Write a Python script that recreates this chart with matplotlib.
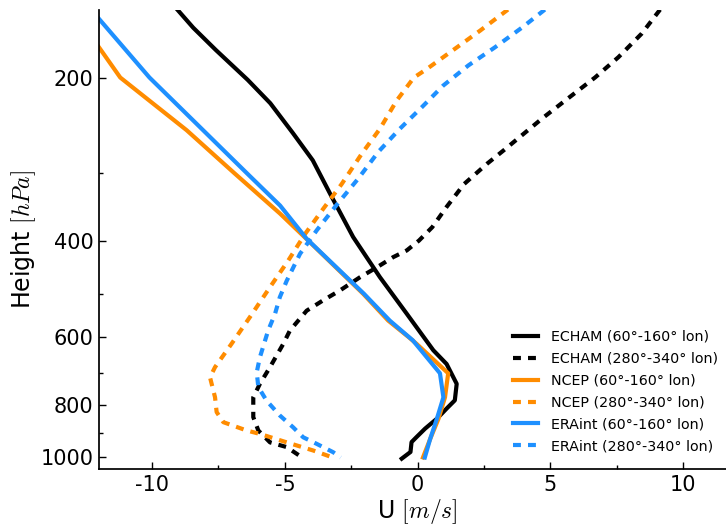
import matplotlib
matplotlib.use("Agg")
import matplotlib.pyplot as plt
from matplotlib.ticker import FixedLocator, NullFormatter, MultipleLocator

plt.rcParams["font.family"] = ["DejaVu Sans"]
plt.rcParams["mathtext.fontset"] = "cm"
plt.rcParams["axes.unicode_minus"] = False

# Zonal wind profiles: pressure levels (hPa) and U (m/s)
p_echam_a = [150, 162, 178, 202, 223, 253, 284, 327, 393, 466, 544, 635, 673,
             732, 785, 812, 848, 885, 919, 937, 977, 1005]
u_echam_a = [-9.05, -8.45, -7.6, -6.4, -5.55, -4.7, -3.95, -3.3, -2.43, -1.42,
             -0.41, 0.59, 1.09, 1.47, 1.40, 1.10, 0.73, 0.28, -0.06, -0.23,
             -0.27, -0.6]

p_echam_b = [150, 166, 183.5, 200, 217, 237, 272, 288, 314, 346, 377, 399, 416,
             428, 447, 466, 493, 514, 537, 584, 618, 682, 732, 775, 843, 892,
             938, 957, 1000]
u_echam_b = [9.13, 8.44, 7.56, 6.68, 5.74, 4.73, 3.25, 2.62, 1.75, 1.09, 0.55,
             0.05, -0.41, -0.92, -1.54, -2.17, -2.93, -3.56, -4.18, -4.81,
             -5.06, -5.56, -5.94, -6.19, -6.19, -6.00, -5.56, -4.93, -4.35]

p_ncep_a = [150, 200, 250, 300, 356, 400, 500, 560, 600, 618, 700, 775, 850,
            925, 1000]
u_ncep_a = [-13.0, -11.2, -8.7, -6.9, -5.18, -4.1, -2.05, -1.11, -0.35, -0.04,
            1.15, 1.03, 0.78, 0.47, 0.2]

p_ncep_b = [150, 164, 178, 193, 200, 220.5, 248.5, 276, 314, 349, 388, 434,
            486, 552, 618, 682, 712, 775, 825, 861, 892, 905, 938, 971, 1000]
u_ncep_b = [3.40, 2.35, 1.34, 0.34, -0.14, -0.79, -1.42, -2.10, -2.86, -3.56,
            -4.24, -4.87, -5.56, -6.32, -7.01, -7.63, -7.82, -7.63, -7.57,
            -7.32, -6.44, -5.94, -4.93, -3.93, -3.2]

p_era_a = [150, 200, 250, 300, 344, 396, 500, 560, 609, 700, 775, 850, 925, 1000]
u_era_a = [-12.3, -10.1, -8.08, -6.43, -5.18, -4.18, -2.02, -1.05, -0.18, 0.84,
           0.97, 0.72, 0.47, 0.27]

p_era_b = [150, 162, 176, 190, 207, 227, 248.5, 274, 307, 343, 382, 422, 473,
           507, 544, 584, 654, 697, 742, 786, 837, 880, 918, 944, 978, 1000]
u_era_b = [4.79, 3.92, 2.91, 1.91, 0.96, 0.15, -0.67, -1.48, -2.24, -3.05,
           -3.80, -4.43, -4.93, -5.19, -5.37, -5.63, -5.94, -6.06, -6.00,
           -5.69, -5.19, -4.69, -4.31, -3.80, -3.18, -2.9]

labels = ["ECHAM (60°-160° lon)",
          "ECHAM (280°-340° lon)",
          "NCEP (60°-160° lon)",
          "NCEP (280°-340° lon)",
          "ERAint (60°-160° lon)",
          "ERAint (280°-340° lon)"]

y_major = [200, 400, 600, 800, 1000]
y_minor = [300, 500, 700, 900]

W, H = 726, 527
fig = plt.figure(figsize=(W / 100, H / 100), dpi=100)
ax = fig.add_axes([99 / W, 1 - 469 / H, (736.3 - 99) / W, (469 - 9.6) / H])

dash = (0, (1.9, 1.7))
lw = 3
ax.plot(u_echam_a, p_echam_a, color="black", lw=lw, label=labels[0])
ax.plot(u_echam_b, p_echam_b, color="black", lw=lw, ls=dash, label=labels[1])
ax.plot(u_ncep_a, p_ncep_a, color="darkorange", lw=lw, label=labels[2])
ax.plot(u_ncep_b, p_ncep_b, color="darkorange", lw=lw, ls=dash, label=labels[3])
ax.plot(u_era_a, p_era_a, color="dodgerblue", lw=lw, label=labels[4])
ax.plot(u_era_b, p_era_b, color="dodgerblue", lw=lw, ls=dash, label=labels[5])

ax.set_yscale("log")
ax.set_ylim(1050, 150)
ax.set_xlim(-12, 12)
ax.yaxis.set_major_locator(FixedLocator(y_major))
ax.yaxis.set_minor_locator(FixedLocator(y_minor))
ax.set_yticklabels([str(v) for v in y_major])
ax.yaxis.set_minor_formatter(NullFormatter())
ax.xaxis.set_major_locator(MultipleLocator(5))
ax.xaxis.set_minor_locator(MultipleLocator(2.5))

for s in ("top", "right"):
    ax.spines[s].set_visible(False)
for s in ("left", "bottom"):
    ax.spines[s].set_linewidth(1.25)
ax.tick_params(which="both", direction="in", labelsize=15, pad=4)
ax.tick_params(which="major", length=5, width=1)
ax.tick_params(which="minor", length=3, width=1)

ax.set_xlabel(r"U $[m/s]$", fontsize=17, labelpad=2)
ax.set_ylabel(r"Height $[hPa]$", fontsize=17, labelpad=2)

leg = ax.legend(loc="upper left", bbox_to_anchor=(513 / W, 1 - 330 / H),
                bbox_transform=fig.transFigure, frameon=False, fontsize=10.3,
                borderpad=0, borderaxespad=0, handlelength=1.75,
                handletextpad=0.9, labelspacing=0.55)

fig.savefig("out.png", dpi=100)
